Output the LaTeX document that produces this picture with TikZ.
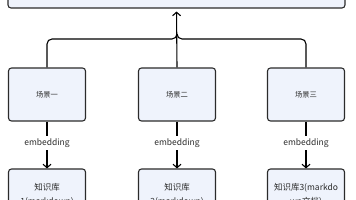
\documentclass[tikz,border=0pt]{standalone}
\usepackage{fontspec}
\newfontfamily\cjk{Noto Sans CJK SC}
\usetikzlibrary{arrows.meta}
\definecolor{boxfill}{HTML}{EFF3FC}
\definecolor{boxline}{HTML}{2B2B2B}
\tikzset{
    scenebox/.style={draw=boxline,fill=boxfill,line width=1.1pt,rounded corners=3pt,
        minimum width=77pt,minimum height=53pt,inner sep=0pt,font=\cjk\fontsize{7.3}{9}\selectfont,text=boxline},
    kbbox/.style={scenebox,minimum height=52pt,align=center,font=\cjk\fontsize{8.5}{14}\selectfont},
    embedlabel/.style={font=\cjk\fontsize{8.5}{10}\selectfont,text=boxline,inner sep=2.5pt},
    link/.style={line width=1.1pt,draw=black,-{Straight Barb[length=3.5pt,width=8pt]}},
}
\begin{document}
\begin{tikzpicture}[x=1pt,y=-1pt]
    \clip (0,0) rectangle (356,200);
    \useasboundingbox (0,0) rectangle (356,200);
    % top box, only its lower edge is in view
    \node[scenebox,minimum width=337pt,minimum height=40pt] (top) at (176.5,-12) {};
    % scenes
    \node[scenebox] (s1) at (47,94.5) {场景一};
    \node[scenebox] (s2) at (177,94.5) {场景二};
    \node[scenebox] (s3) at (306,94.5) {场景三};
    % embedding labels
    \node[embedlabel] (e1) at (47,143) {embedding};
    \node[embedlabel] (e2) at (177,143) {embedding};
    \node[embedlabel] (e3) at (306,143) {embedding};
    % knowledge bases
    \node[kbbox] (k1) at (47,195) {知识库\\1(markdown)};
    \node[kbbox] (k2) at (177,195) {知识库\\2(markdown)};
    \node[kbbox] (k3) at (306,195) {知识库3(markdo\\wn文档)};
    \coordinate (hub) at (177,34);
    \draw[line width=1.1pt,rounded corners=5pt] (s1.north) |- (hub |- 0,39) -- (hub);
    \draw[line width=1.1pt,rounded corners=5pt] (s3.north) |- (hub |- 0,39) -- (hub);
    \draw[link,shorten >=3pt] (s2.north) -- (top.south);
    \foreach \i in {1,2,3} {
        \draw[line width=1.1pt] (s\i.south) -- (e\i.north);
        \draw[link] (e\i.south) -- (k\i.north);
    }
\end{tikzpicture}
\end{document}
